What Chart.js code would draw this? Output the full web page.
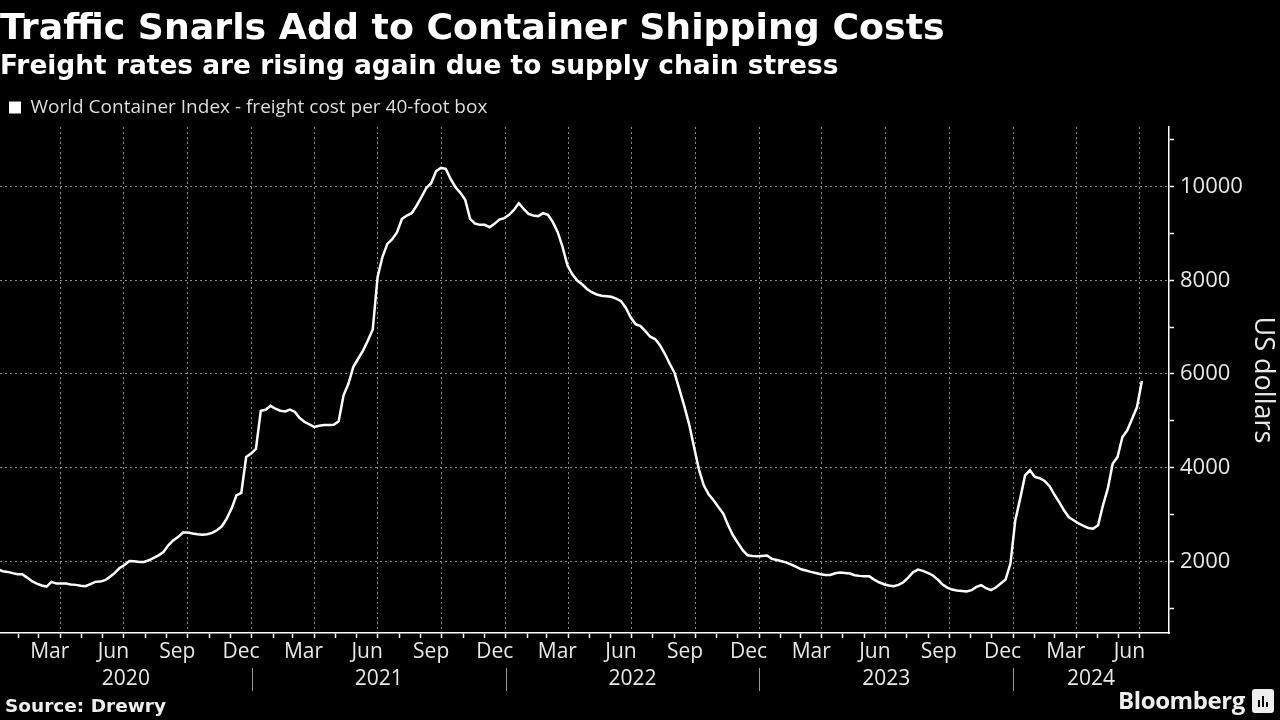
<!DOCTYPE html>
<html>
<head>
<meta charset="utf-8">
<title>Traffic Snarls Add to Container Shipping Costs</title>
<script src="https://cdn.jsdelivr.net/npm/chart.js@4.4.1/dist/chart.umd.min.js"></script>
<style>
  html, body { margin: 0; padding: 0; background: #000; }
  #wrap { position: relative; width: 1280px; height: 720px; overflow: hidden; }
  #grafico { position: absolute; left: 0; top: 0; }
  .source { position: absolute; left: 5px; top: 695px; font: bold 18.5px "DejaVu Sans", sans-serif; line-height: 22px; color: #eee; }
  .brand { position: absolute; right: 35px; top: 686px; font: bold 24px "Open Sans", sans-serif; line-height: 28px; color: #eee; letter-spacing: -0.4px; }
  .icon { position: absolute; left: 1252px; top: 689px; width: 22px; height: 24px; background: #eee; border-radius: 3px; }
  .icon i { position: absolute; bottom: 6px; width: 2px; background: #000; }
</style>
</head>
<body>
<div id="wrap">
  <canvas id="grafico" width="1280" height="720"></canvas>
  <div class="source">Source: Drewry</div>
  <div class="brand">Bloomberg</div>
  <div class="icon"><i style="left:6px;height:7px"></i><i style="left:10px;height:11px"></i><i style="left:14px;height:5px"></i></div>
</div>
<script>
// Drewry World Container Index, weekly, first reading Thu 2 Jan 2020
var titleText = 'Traffic Snarls Add to Container Shipping Costs';
var subtitleText = 'Freight rates are rising again due to supply chain stress';
var seriesLabel = 'World Container Index - freight cost per 40-foot box';
var axisTitle = 'US dollars';
var firstWeek = [2020, 0, 2];

var wci2020 = [1830, 1790, 1777, 1750, 1727, 1727, 1655, 1578, 1528, 1486,
  1464, 1564, 1528, 1528, 1528, 1507, 1500, 1480, 1470, 1514,
  1564, 1570, 1600, 1670, 1755, 1860, 1925, 2011, 2004, 1990,
  1990, 2025, 2075, 2130, 2200, 2345, 2450, 2520, 2615, 2615,
  2594, 2580, 2572, 2580, 2608, 2665, 2750, 2915, 3127, 3410,
  3461, 4229, 4300];
var wci2021 = [4400, 5215, 5237, 5320, 5259, 5216, 5202, 5240, 5190, 5060,
  4975, 4925, 4868, 4896, 4911, 4911, 4915, 4990, 5545, 5790,
  6147, 6325, 6500, 6715, 6950, 8070, 8500, 8777, 8876, 9025,
  9310, 9380, 9431, 9590, 9772, 9970, 10070, 10325, 10397, 10376,
  10162, 9985, 9865, 9715, 9310, 9210, 9182, 9182, 9132, 9203,
  9296, 9324];
var wci2022 = [9395, 9500, 9643, 9523, 9416, 9381, 9367, 9430, 9395, 9240,
  9025, 8705, 8315, 8125, 7995, 7915, 7815, 7745, 7697, 7668,
  7660, 7647, 7610, 7555, 7410, 7205, 7064, 7020, 6915, 6795,
  6745, 6615, 6431, 6218, 6020, 5670, 5315, 4925, 4440, 3965,
  3625, 3435, 3305, 3162, 3020, 2772, 2558, 2395, 2240, 2132,
  2118, 2111];
var wci2023 = [2118, 2125, 2054, 2032, 2004, 1975, 1933, 1883, 1833, 1805,
  1777, 1755, 1727, 1713, 1713, 1748, 1762, 1755, 1741, 1706,
  1692, 1684, 1682, 1613, 1556, 1514, 1485, 1471, 1500, 1556,
  1656, 1770, 1827, 1798, 1755, 1706, 1620, 1514, 1443, 1400,
  1379, 1371, 1357, 1386, 1457, 1492, 1428, 1386, 1443, 1528,
  1613, 1955];
var wci2024 = [2880, 3340, 3835, 3945, 3802, 3775, 3717, 3610, 3430, 3269,
  3091, 2943, 2880, 2810, 2760, 2715, 2700, 2772, 3197, 3553,
  4086, 4229, 4655, 4797, 5045, 5295, 5849];

var years = [2020, 2021, 2022, 2023, 2024];
var monthNames = ['Mar', 'Jun', 'Sep', 'Dec'];
var monthIdx = [2, 5, 8, 11];
var yTicks = [1000, 2000, 3000, 4000, 5000, 6000, 7000, 8000, 9000, 10000, 11000];
var yLabelled = [2000, 4000, 6000, 8000, 10000];

// x axis runs in days counted from 1 Jan 2020
function day(y, m, d) {
  return (Date.UTC(y, m, d) - Date.UTC(2020, 0, 1)) / 86400000;
}
function monthOf(v) {
  return new Date(Date.UTC(2020, 0, 1) + v * 86400000).getUTCMonth();
}

var weekly = wci2020.concat(wci2021, wci2022, wci2023, wci2024);
var start = day(firstWeek[0], firstWeek[1], firstWeek[2]);
var points = weekly.map(function (v, i) { return { x: start + 7 * i, y: v }; });
var lastDay = points[points.length - 1].x;

var xMin = 4;
var xMax = 1685;

var monthStarts = [];
var monthMids = [];
var monthText = [];
years.forEach(function (y) {
  for (var m = 0; m < 12; m++) {
    var d = day(y, m, 1);
    if (d >= xMin && d <= lastDay) monthStarts.push(d);
    var k = monthIdx.indexOf(m);
    var mid = (day(y, m, 1) + day(y, m + 1, 1)) / 2;
    if (k >= 0 && mid >= xMin && mid <= lastDay + 16) {
      monthMids.push(mid);
      monthText.push(monthNames[k]);
    }
  }
});
var yearMids = years.map(function (y) {
  return (Math.max(day(y, 0, 1), xMin) + Math.min(day(y + 1, 0, 1), xMax)) / 2;
});

// size the header texts so they cover the same width as the original
var family = '"Open Sans", Roboto, sans-serif';
var headFamily = '"DejaVu Sans", "Open Sans", sans-serif';
function fitSize(text, weight, fam, target, lo, hi) {
  var c = document.createElement('canvas').getContext('2d');
  c.font = weight + ' 100px ' + fam;
  return Math.max(lo, Math.min(hi, 100 * target / c.measureText(text).width));
}

Chart.defaults.font.family = family;
Chart.defaults.color = '#e8e8e8';

var gridGrey = '#8a8a8a';

var yearDividers = {
  id: 'yearDividers',
  afterDraw: function (chart) {
    var s = chart.scales.xy;
    var c = chart.ctx;
    c.save();
    c.strokeStyle = '#9a9a9a';
    c.lineWidth = 1;
    years.slice(1).forEach(function (y) {
      var px = Math.round(s.getPixelForValue(day(y, 0, 1))) + 0.5;
      c.beginPath();
      c.moveTo(px, s.top + 5);
      c.lineTo(px, s.bottom - 2);
      c.stroke();
    });
    c.restore();
  }
};

var ctx = document.querySelector('#grafico').getContext('2d');
var chart = new Chart(ctx, {
  type: 'line',
  data: {
    datasets: [{
      label: seriesLabel,
      data: points,
      borderColor: '#ffffff',
      backgroundColor: '#ffffff',
      borderWidth: 2.5,
      pointRadius: 0,
      tension: 0,
      xAxisID: 'x',
      yAxisID: 'y'
    }]
  },
  options: {
    responsive: false,
    animation: false,
    devicePixelRatio: 1,
    layout: { padding: { top: 0, left: 0, right: 0, bottom: 27 } },
    plugins: {
      title: {
        display: true, text: titleText, align: 'start', color: '#ffffff',
        font: { family: headFamily, size: fitSize(titleText, 'bold', headFamily, 945, 28, 42), weight: 'bold', lineHeight: '43px' },
        padding: { top: 8, bottom: 0 }
      },
      subtitle: {
        display: true, text: subtitleText, align: 'start', color: '#ffffff',
        font: { family: headFamily, size: fitSize(subtitleText, 'bold', headFamily, 839, 20, 30), weight: 'bold', lineHeight: '30px' },
        padding: { top: 1, bottom: 7 }
      },
      legend: {
        display: true, align: 'start',
        labels: {
          boxWidth: 12, boxHeight: 12, padding: 9, color: '#dddddd',
          font: { size: fitSize(seriesLabel, 'normal', family, 461, 16, 19) },
          generateLabels: function () {
            return [{ text: seriesLabel, fillStyle: '#ffffff', strokeStyle: '#ffffff',
              lineWidth: 0, fontColor: '#dddddd', hidden: false, datasetIndex: 0 }];
          }
        }
      },
      tooltip: { enabled: false }
    },
    scales: {
      x: {
        type: 'linear', position: 'bottom', weight: 0, min: xMin, max: xMax,
        afterBuildTicks: function (axis) {
          axis.ticks = monthStarts.map(function (v) { return { value: v }; });
        },
        afterFit: function (axis) { axis.height = 5; },
        ticks: { display: false },
        grid: {
          color: function (c) {
            return c.tick && monthOf(c.tick.value) % 3 === 0 ? gridGrey : 'transparent';
          },
          lineWidth: 1, tickLength: 5, tickColor: '#ffffff', tickWidth: 1.5
        },
        border: { display: true, color: '#ffffff', width: 1.5, dash: [2, 3] }
      },
      xm: {
        type: 'linear', axis: 'x', position: 'bottom', weight: 1, min: xMin, max: xMax,
        afterBuildTicks: function (axis) {
          axis.ticks = monthMids.map(function (v) { return { value: v }; });
        },
        afterFit: function (axis) { axis.height = 25; },
        grid: { display: false, drawTicks: false },
        border: { display: false },
        ticks: {
          autoSkip: false, maxRotation: 0, padding: 3.5, color: '#e8e8e8',
          font: { size: 21, lineHeight: 1 },
          callback: function (v, i) { return monthText[i]; }
        }
      },
      xy: {
        type: 'linear', axis: 'x', position: 'bottom', weight: 2, min: xMin, max: xMax,
        afterBuildTicks: function (axis) {
          axis.ticks = yearMids.map(function (v) { return { value: v }; });
        },
        afterFit: function (axis) { axis.height = 30; },
        grid: { display: false, drawTicks: false },
        border: { display: false },
        ticks: {
          autoSkip: false, maxRotation: 0, padding: 5.5, color: '#e8e8e8',
          font: { size: 21, lineHeight: 1 },
          callback: function (v, i) { return String(years[i]); }
        }
      },
      y: {
        type: 'linear', position: 'right', min: 473, max: 11270,
        afterBuildTicks: function (axis) {
          axis.ticks = yTicks.map(function (v) { return { value: v }; });
        },
        afterFit: function (axis) { axis.width = 111; },
        ticks: {
          padding: 6, color: '#e8e8e8', font: { size: 22, lineHeight: 1 },
          callback: function (v) { return yLabelled.indexOf(v) >= 0 ? String(v) : ''; }
        },
        grid: {
          color: function (c) {
            return c.tick && yLabelled.indexOf(c.tick.value) >= 0 ? gridGrey : 'transparent';
          },
          lineWidth: 1, tickLength: 5, tickColor: '#ffffff', tickWidth: 1.5
        },
        border: { display: true, color: '#ffffff', width: 1.5, dash: [2, 3] },
        title: {
          display: true, text: axisTitle, color: '#e8e8e8',
          font: { size: 27, lineHeight: 1.2 },
          padding: { top: 1, bottom: 0 }
        }
      }
    }
  },
  plugins: [yearDividers]
});
</script>
</body>
</html>
